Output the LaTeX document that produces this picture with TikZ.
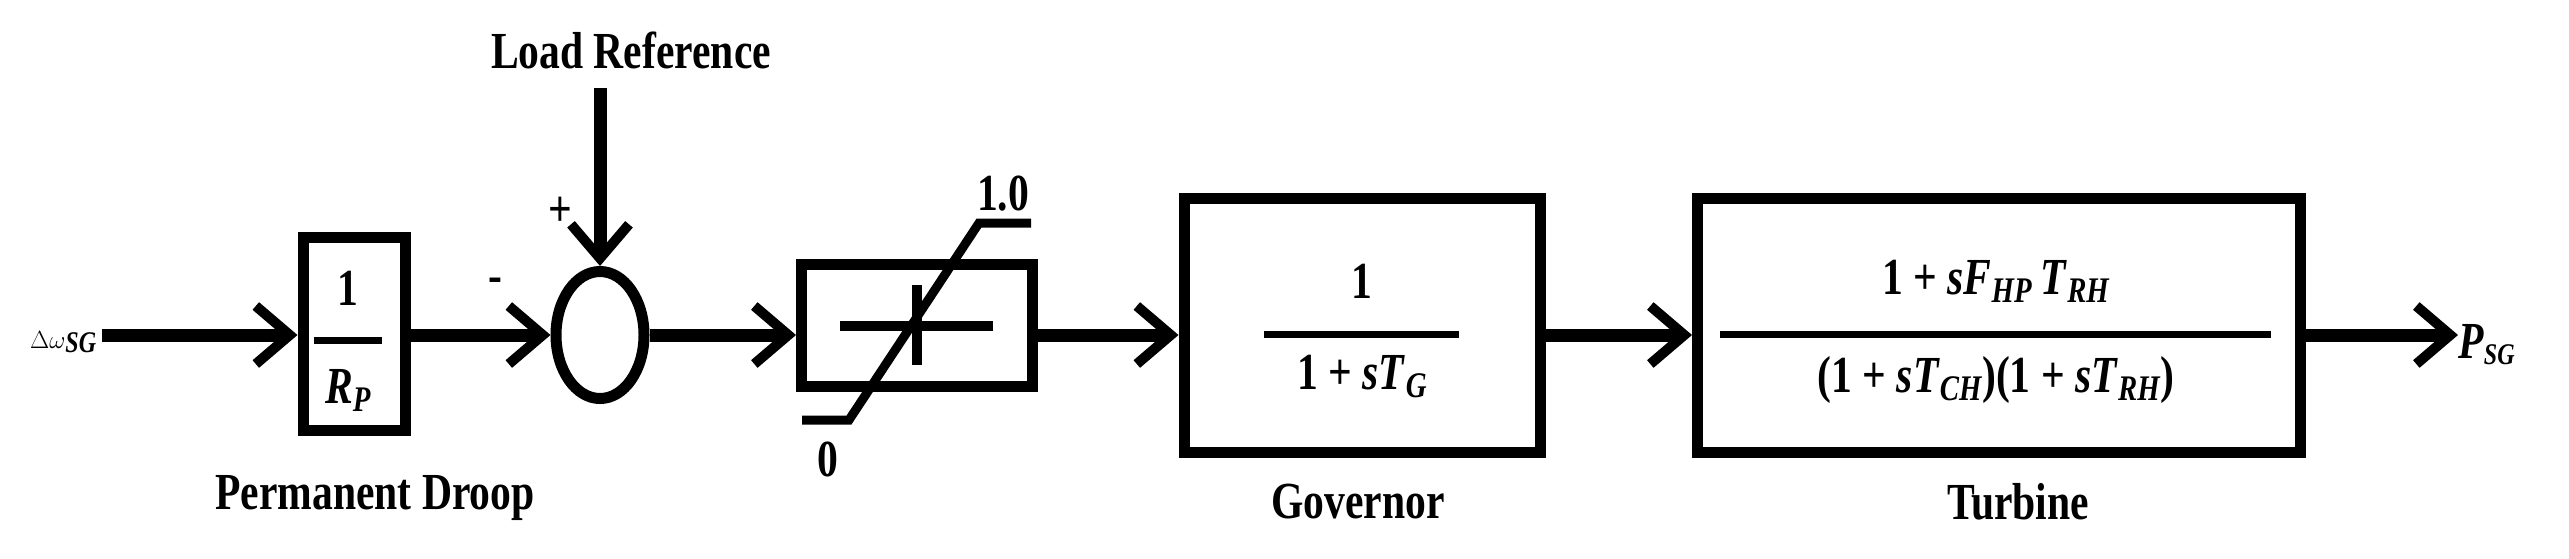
\documentclass[tikz,border=0pt]{standalone}
\usepackage{fontspec}
\setmainfont{Liberation Serif}
\newfontfamily\cond[FakeStretch=0.8]{Liberation Serif}
\usetikzlibrary{arrows.meta,shapes.geometric}
\begin{document}
\begin{tikzpicture}[x=1pt,y=-1pt,
  wire/.style={line width=13pt,-{Straight Barb[length=34pt,width=58pt,line width=10pt]}},
  blk/.style={draw,line width=11pt,inner sep=0pt},
  lbl/.style={font=\cond\bfseries\fontsize{52}{52}\selectfont,inner sep=0pt},
  mth/.style={font=\cond\bfseries\fontsize{52}{52}\selectfont,inner sep=0pt},
  bar/.style={line width=7pt}]
\useasboundingbox (0,0) rectangle (2569,558);
% nodes
\node[lbl,anchor=west] (in) at (30,342) {$\Delta\omega$\raisebox{-4pt}{\fontsize{30}{30}\selectfont\textit{SG}}};
\node[blk,minimum width=102pt,minimum height=193pt] (rp) at (354,334) {};
\node[mth] (rpn) at (348,288) {1};
\node[mth] (rpd) at (348,390) {\textit{R}\raisebox{-8pt}{\fontsize{36}{36}\selectfont\textit{P}}};
\draw[bar] (314,340) -- (382,340);
\node[draw,ellipse,line width=11pt,minimum width=88pt,minimum height=127pt,inner sep=0pt] (sum) at (600,335) {};
\node[lbl] (minus) at (495,285) {-};
\node[lbl] (plus) at (560,212) {+};
\node[lbl] (lref) at (631,50) {Load Reference};
\coordinate (lrtop) at (600,88);
\node[blk,minimum width=231pt,minimum height=122pt] (sat) at (917,325) {};
\draw[line width=10pt] (840,326) -- (993,326);
\draw[line width=10pt] (917,285) -- (917,365);
\draw[line width=9pt] (802,420) -- (849,420) -- (979,223) -- (1031,223);
\node[lbl] (one) at (1003,194) {1.0};
\node[lbl] (zero) at (828,459) {0};
\node[lbl] (pd) at (375,498) {Permanent Droop};
\node[blk,minimum width=356pt,minimum height=254pt] (gov) at (1362,325) {};
\node[mth] (gn) at (1362,281) {1};
\node[mth] (gd) at (1362,377) {1 + \textit{sT}\raisebox{-8pt}{\fontsize{36}{36}\selectfont\textit{G}}};
\draw[bar] (1264,334) -- (1459,334);
\node[lbl] (govl) at (1358,502) {Governor};
\node[blk,minimum width=603pt,minimum height=254pt] (tur) at (1999,325) {};
\node[mth] (tn) at (1996,281) {1 + \textit{sF}\raisebox{-8pt}{\fontsize{36}{36}\selectfont\textit{HP}}\,\textit{T}\raisebox{-8pt}{\fontsize{36}{36}\selectfont\textit{RH}}};
\node[mth] (td) at (1996,380) {(1 + \textit{sT}\raisebox{-8pt}{\fontsize{36}{36}\selectfont\textit{CH}})(1 + \textit{sT}\raisebox{-8pt}{\fontsize{36}{36}\selectfont\textit{RH}})};
\draw[bar] (1720,334) -- (2271,334);
\node[lbl] (turl) at (2018,502) {Turbine};
\node[lbl,anchor=west] (out) at (2458,345) {\textit{P}\raisebox{-6pt}{\fontsize{30}{30}\selectfont\textit{SG}}};
% connectors
\draw[wire] (in.east |- 0,335) ++(6,0) coordinate (ins) -- (rp.west |- ins);
\draw[wire] (rp.east |- 0,335) -- (sum.west);
\draw[wire] (lrtop) -- (sum.north);
\draw[wire] (sum.east) -- (sat.west |- 0,335);
\draw[wire] (sat.east |- 0,335) -- (gov.west |- 0,335);
\draw[wire] (gov.east |- 0,335) -- (tur.west |- 0,335);
\draw[wire] (tur.east |- 0,335) -- (out.west |- 0,335);
\end{tikzpicture}
\end{document}
